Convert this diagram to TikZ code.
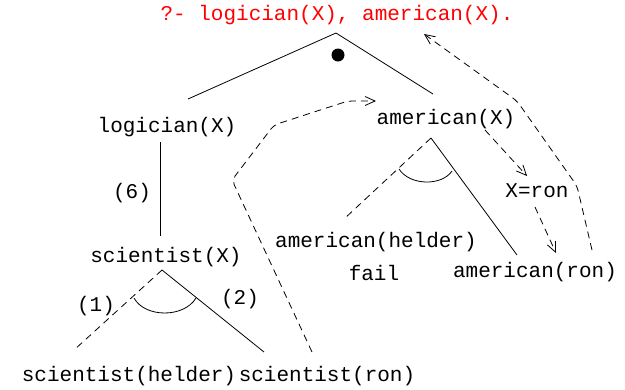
\documentclass[tikz,border=0pt]{standalone}
\usepackage{fontspec}
\setmonofont{Liberation Mono}
\usetikzlibrary{arrows.meta}

\tikzset{
  goal/.style={font=\ttfamily\fontsize{21}{24}\selectfont, inner sep=0pt},
  branch/.style={line width=0.8pt},
  failed/.style={line width=0.8pt, dash pattern=on 7pt off 5pt},
  trace/.style={line width=0.8pt, dash pattern=on 7pt off 5pt, rounded corners=5pt,
    -{Straight Barb[length=10pt,width=9pt,line width=0.8pt]}},
}

\begin{document}
\begin{tikzpicture}[x=1pt,y=-1pt]
    \useasboundingbox (0,0) rectangle (625,389);

    % Query and its two subgoals
    \node[goal, text=red] (query) at (337,15) {?- logician(X), american(X).};
    \coordinate (qtop) at (336,33);
    \coordinate (qleft) at (188,99);
    \coordinate (qright) at (433,94);
    \draw[branch] (qleft) -- (qtop) -- (qright);
    \fill (338,55) circle (6.5);

    \node[goal] (logX) at (167,127) {logician(X)};
    \node[goal] (amX) at (446,119) {american(X)};

    % logician(X) :- scientist(X)
    \coordinate (logdown) at (160,142);
    \coordinate (scitop) at (160,236);
    \draw[branch] (logdown) -- (scitop);
    \node[goal] (r6) at (132,193) {(6)};
    \node[goal] (sciX) at (166,257) {scientist(X)};

    % scientist(X) alternatives
    \coordinate (sfork) at (162,270);
    \coordinate (sleft) at (74,350);
    \coordinate (sright) at (264,352);
    \draw[failed] (sfork) -- (sleft);
    \draw[branch] (sfork) -- (sright);
    \draw[branch] (134,298) .. controls (145,318) and (184,318) .. (196,298);
    \node[goal] (r1) at (96,306) {(1)};
    \node[goal] (r2) at (240,299) {(2)};
    \node[goal] (sciH) at (129,376) {scientist(helder)};
    \node[goal] (sciR) at (327,376) {scientist(ron)};

    % american(X) alternatives
    \coordinate (afork) at (431,138);
    \coordinate (aleft) at (344,219);
    \coordinate (aright) at (517,255);
    \draw[failed] (afork) -- (aleft);
    \draw[branch] (afork) -- (aright);
    \draw[branch] (399,169) .. controls (410,186) and (442,186) .. (452,171);
    \node[goal] (amH) at (376,242) {american(helder)};
    \node[goal] (fail) at (374,273) {fail};
    \node[goal] (amR) at (535,272) {american(ron)};
    \node[goal] (bind) at (537,191) {X=ron};

    % Execution trace
    \coordinate (tr1) at (312,352);
    \coordinate (tr2) at (376,101);
    \draw[trace] (tr1) -- (232,180) -- (274,125) -- (348,101) -- (tr2);
    \coordinate (tr3) at (485,130);
    \coordinate (tr4) at (527,176);
    \draw[trace] (tr3) -- (tr4);
    \coordinate (tr5) at (535,207);
    \coordinate (tr6) at (556,253);
    \draw[trace] (tr5) -- (tr6);
    \coordinate (tr7) at (592,250);
    \coordinate (tr8) at (424,34);
    \draw[trace] (tr7) -- (577,186) -- (517,101) -- (tr8);
\end{tikzpicture}
\end{document}
